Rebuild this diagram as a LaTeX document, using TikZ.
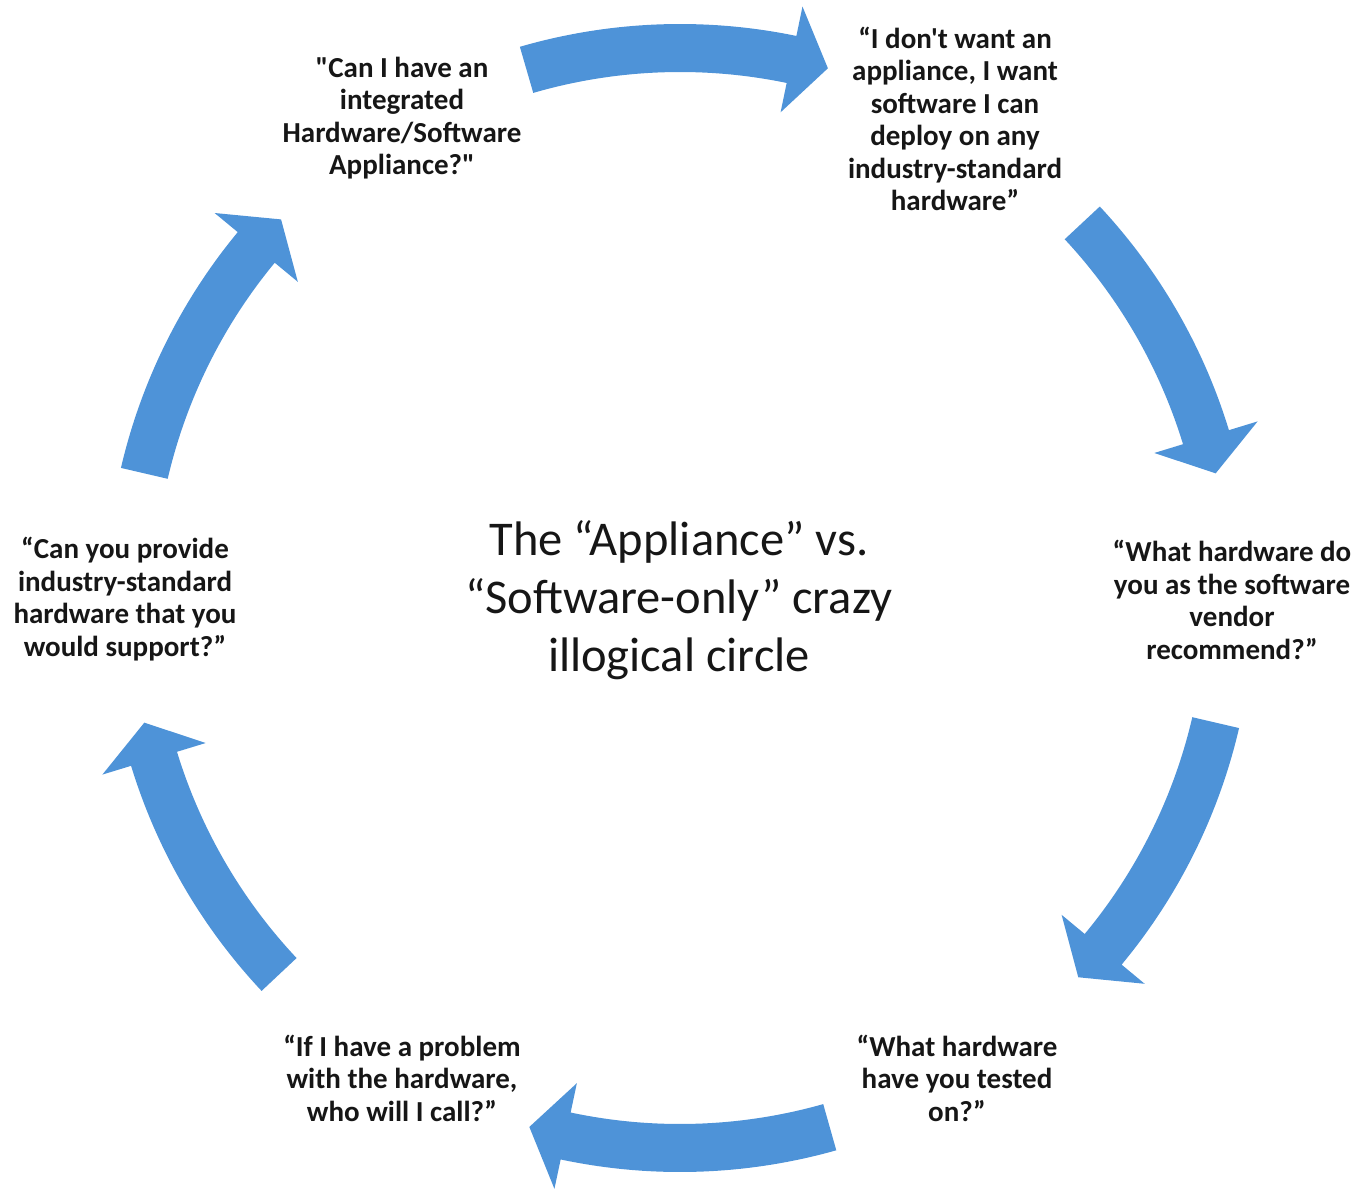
\documentclass[tikz,border=0pt]{standalone}
\usepackage{fontspec}
\newfontfamily\qfont{Carlito}
\usetikzlibrary{calc}
\definecolor{arrowblue}{RGB}{78,147,216}
\definecolor{txtcol}{RGB}{22,22,22}
\newcommand{\cycarrow}[2]{%
  \pgfmathsetmacro{\hb}{#2+3.9}%
  \fill[arrowblue] ($(C)+(#1:574)$) arc[start angle=#1, end angle=\hb, radius=574]
    -- ($(C)+(\hb:604)$) -- ($(C)+(#2:550)$) -- ($(C)+(\hb:496)$)
    -- ($(C)+(\hb:526)$) arc[start angle=\hb, end angle=#1, radius=526] -- cycle;
}
\begin{document}
\begin{tikzpicture}[x=1pt,y=1pt,
  quote/.style={text=txtcol, align=center, font=\qfont\bfseries\fontsize{29}{32.5}\selectfont, inner sep=0pt},
  title/.style={text=txtcol, align=center, font=\qfont\fontsize{48.5}{58}\selectfont, inner sep=0pt}]
\useasboundingbox (0,0) rectangle (1362,1189);
\coordinate (C) at (680,591);
\cycarrow{106.2}{74.4}
\cycarrow{43.0}{13.1}
\cycarrow{-13.1}{-43.6}
\cycarrow{-74.2}{-105.9}
\cycarrow{-136.8}{-166.9}
\cycarrow{166.9}{136.5}
\node[quote] (q1) at (402,1189-118) {"Can I have an\\integrated\\Hardware/Software\\Appliance?"};
\node[quote] (q2) at (955,1189-119) {“I don't want an\\appliance, I want\\software I can\\deploy on any\\industry-standard\\hardware”};
\node[quote] (q3) at (1232,1189-600) {“What hardware do\\you as the software\\vendor\\recommend?”};
\node[quote] (q4) at (957,1189-1078) {“What hardware\\have you tested\\on?”};
\node[quote] (q5) at (402,1189-1078) {“If I have a problem\\with the hardware,\\who will I call?”};
\node[quote] (q6) at (125,1189-599) {“Can you provide\\industry-standard\\hardware that you\\would support?”};
\node[title] (t) at (679,1189-600) {The “Appliance” vs.\\“Software-only” crazy\\illogical circle};
\end{tikzpicture}
\end{document}
